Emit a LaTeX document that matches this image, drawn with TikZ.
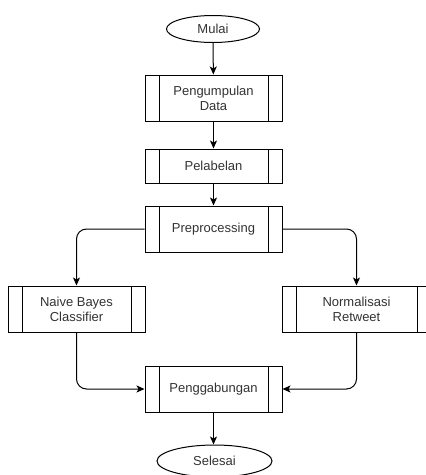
\documentclass[tikz,border=0pt]{standalone}
\usepackage{fontspec}
\setmainfont{Liberation Sans}
\usetikzlibrary{shapes.geometric,arrows.meta}
\definecolor{txt}{HTML}{333333}
\tikzset{
  proc/.style={draw=black, line width=1pt, fill=white, rectangle, minimum width=137pt, minimum height=46pt,
    inner sep=0pt, align=center, text=txt, font=\fontsize{13}{15}\selectfont,
    path picture={\draw[line width=1pt] ([xshift=14pt]path picture bounding box.north west) -- ([xshift=14pt]path picture bounding box.south west);
                  \draw[line width=1pt] ([xshift=-14pt]path picture bounding box.north east) -- ([xshift=-14pt]path picture bounding box.south east);}},
  term/.style={draw=black, line width=1pt, fill=white, ellipse, inner sep=0pt, text=txt, font=\fontsize{13}{15}\selectfont},
  arr/.style={draw=black, line width=1pt, -{Stealth[length=8pt,width=7pt,inset=2pt]}, rounded corners=10pt}
}
\begin{document}
\begin{tikzpicture}[x=1pt,y=-1pt]
\useasboundingbox (0,0) rectangle (426,475);
\clip (0,0) rectangle (426,475);
\node[term, minimum width=93pt, minimum height=27pt] (mulai) at (213,29) {Mulai};
\node[proc] (kumpul) at (213.5,98) {Pengumpulan\\Data};
\node[proc, minimum height=34pt] (label) at (213.5,166) {Pelabelan};
\node[proc] (pre) at (213.5,229) {Preprocessing};
\node[proc] (nb) at (76.5,309) {Naive Bayes\\Classifier};
\node[proc, minimum width=149pt] (norm) at (356.5,309) {Normalisasi\\Retweet};
\node[proc] (gab) at (213.5,389) {Penggabungan};
\node[term, minimum width=115pt, minimum height=32pt] (selesai) at (214.5,461) {Selesai};
\draw[arr] (mulai) -- (kumpul);
\draw[arr] (kumpul) -- (label);
\draw[arr] (label) -- (pre);
\draw[arr] (pre.west) -| (nb.north);
\draw[arr] (pre.east) -| (norm.north);
\draw[arr] (nb.south) |- (gab.west);
\draw[arr] (norm.south) |- (gab.east);
\draw[arr] (gab.south) -- (selesai.north -| gab.south);
\end{tikzpicture}
\end{document}
